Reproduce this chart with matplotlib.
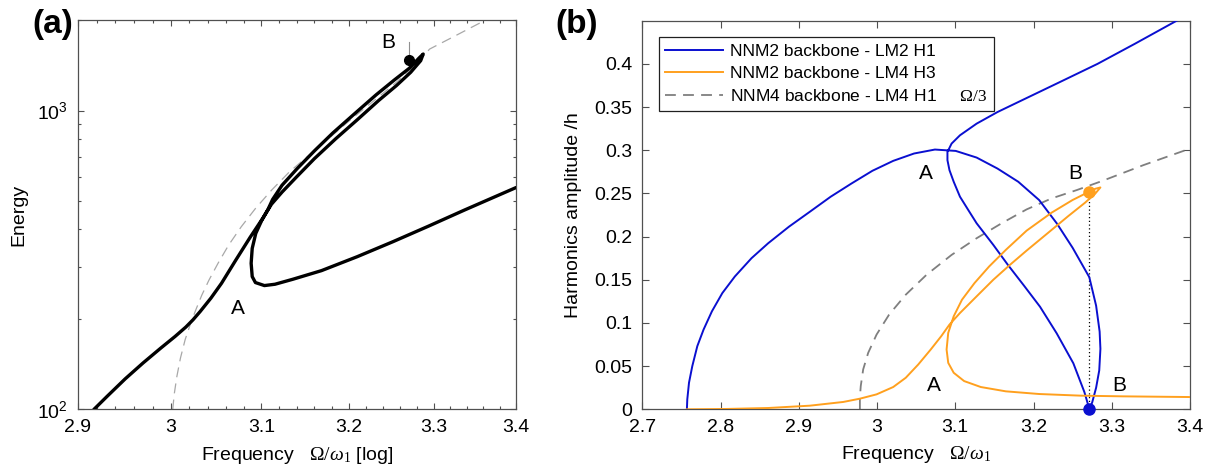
import matplotlib
matplotlib.use('Agg')
import numpy as np
import matplotlib.pyplot as plt
from matplotlib.ticker import FixedLocator, FixedFormatter, NullFormatter, LogLocator, FuncFormatter

plt.rcParams['font.family'] = ['Liberation Sans', 'DejaVu Sans']
plt.rcParams['mathtext.fontset'] = 'custom'
plt.rcParams['mathtext.rm'] = 'Liberation Serif'
plt.rcParams['mathtext.it'] = 'Liberation Serif:italic'
plt.rcParams['mathtext.sf'] = 'Liberation Sans'
plt.rcParams['mathtext.bf'] = 'Liberation Serif:bold'

# ---------------- data : panel (a) ----------------
a_resp_freq = [2.9170, 2.9313, 2.9504, 2.9696, 2.9889, 3.0044, 3.0161, 3.0239, 3.0318, 3.0436,
               3.0554, 3.0713, 3.0872, 3.1013, 3.1113, 3.1234, 3.1397, 3.1601, 3.1847, 3.2096,
               3.2346, 3.2556, 3.2725, 3.2844, 3.2874, 3.2825, 3.2708, 3.2532, 3.2316, 3.2064,
               3.1812, 3.1607, 3.1404, 3.1232, 3.1125, 3.1073, 3.1001, 3.0936, 3.0896, 3.0884,
               3.0896, 3.0932, 3.1033, 3.1153, 3.1356, 3.1683, 3.2096, 3.2514, 3.2938, 3.3367, 3.4000]
a_resp_energy = [100.0, 110.8, 126.6, 143.1, 160.6, 175.6, 188.7, 199.5, 212.7, 235.7,
                 264.4, 316.2, 376.3, 435.4, 486.1, 534.2, 599.5, 690.1, 804.6, 930.8,
                 1079.7, 1211.5, 1342.1, 1467.8, 1544.9, 1498.1, 1384.0, 1265.5, 1127.7, 974.7,
                 840.4, 735.6, 639.2, 562.3, 503.8, 466.6, 427.8, 388.1, 345.9, 308.3,
                 278.3, 265.8, 259.7, 262.4, 272.7, 291.4, 324.4, 364.0, 410.5, 464.2, 552.4]
a_bb_freq = [3.0017, 3.0036, 3.0063, 3.0102, 3.0153, 3.0208, 3.0270, 3.0337, 3.0416, 3.0515,
             3.0633, 3.0773, 3.0932, 3.1113, 3.1315, 3.1560, 3.1806, 3.2054, 3.2304, 3.2556,
             3.2768, 3.2951, 3.3238, 3.3671]
a_bb_energy = [100.0, 113.7, 129.2, 148.7, 171.2, 192.1, 215.4, 241.7, 271.3, 308.3,
               354.8, 408.4, 470.1, 541.2, 623.0, 717.1, 825.4, 950.1, 1085.3, 1243.0,
               1412.5, 1605.3, 1765.3, 2037.0]
a_B_freq, a_B_energy = 3.271, 1475.0
a_B_stem_top = 1700.0
a_xticks = [2.9, 3.0, 3.1, 3.2, 3.3, 3.4]
a_yticks = [100, 1000]
a_yticklabels = [r'$\mathsf{10^{2}}$', r'$\mathsf{10^{3}}$']

# ---------------- data : panel (b) ----------------
b_lm2_freq = [2.7570, 2.7575, 2.7597, 2.7639, 2.7703, 2.7783, 2.7890, 2.8023, 2.8183, 2.8396,
              2.8609, 2.8875, 2.9142, 2.9408, 2.9674, 2.9941, 3.0207, 3.0473, 3.0740, 3.1006,
              3.1273, 3.1539, 3.1805, 3.2072, 3.2300, 3.2500, 3.2713, 3.2800, 3.2845, 3.2855,
              3.2840, 3.2800, 3.2750, 3.2713, 3.2680, 3.2650, 3.2509, 3.2296, 3.2083, 3.1880,
              3.1672, 3.1486, 3.1273, 3.1166, 3.1060, 3.0980, 3.0926, 3.0900, 3.0900, 3.0953,
              3.1060, 3.1273, 3.1539, 3.1805, 3.2338, 3.2818, 3.3300, 3.3900]
b_lm2_amp = [0.0000, 0.0115, 0.0308, 0.0500, 0.0731, 0.0923, 0.1135, 0.1346, 0.1538, 0.1750,
             0.1923, 0.2115, 0.2288, 0.2462, 0.2615, 0.2762, 0.2877, 0.2962, 0.3008, 0.2992,
             0.2915, 0.2788, 0.2635, 0.2423, 0.2150, 0.1870, 0.1530, 0.1200, 0.0900, 0.0700,
             0.0450, 0.0250, 0.0080, 0.0000, 0.0108, 0.0200, 0.0533, 0.0880, 0.1188, 0.1430,
             0.1673, 0.1904, 0.2154, 0.2308, 0.2462, 0.2635, 0.2769, 0.2885, 0.2980, 0.3077,
             0.3173, 0.3308, 0.3442, 0.3558, 0.3790, 0.4000, 0.4235, 0.4535]
b_lm4h3_freq = [2.7570, 2.8076, 2.8609, 2.9142, 2.9568, 2.9781, 2.9994, 3.0207, 3.0367, 3.0527,
                3.0686, 3.0820, 3.0926, 3.1060, 3.1273, 3.1486, 3.1699, 3.1912, 3.2179, 3.2445,
                3.2658, 3.2791, 3.2855, 3.2791, 3.2685, 3.2498, 3.2231, 3.1912, 3.1646, 3.1433,
                3.1246, 3.1086, 3.0980, 3.0910, 3.0889, 3.0910, 3.0980, 3.1113, 3.1326, 3.1646,
                3.2072, 3.2604, 3.3137, 3.4000]
b_lm4h3_amp = [0.0000, 0.0004, 0.0015, 0.0042, 0.0085, 0.0123, 0.0173, 0.0258, 0.0365, 0.0519,
               0.0692, 0.0846, 0.0981, 0.1115, 0.1308, 0.1500, 0.1673, 0.1838, 0.2038, 0.2238,
               0.2392, 0.2500, 0.2569, 0.2554, 0.2508, 0.2423, 0.2277, 0.2069, 0.1846, 0.1654,
               0.1462, 0.1269, 0.1077, 0.0885, 0.0692, 0.0538, 0.0423, 0.0327, 0.0258, 0.0208,
               0.0177, 0.0158, 0.0150, 0.0142]
b_nnm4_freq = [2.9781, 2.9781, 2.9792, 2.9823, 2.9887, 2.9994, 3.0154, 3.0367, 3.0633, 3.0953,
               3.1273, 3.1592, 3.1912, 3.2231, 3.2551, 3.2871, 3.3403, 3.4000]
b_nnm4_amp = [0.0000, 0.0135, 0.0269, 0.0462, 0.0654, 0.0865, 0.1096, 0.1327, 0.1558, 0.1788,
              0.1981, 0.2154, 0.2315, 0.2442, 0.2538, 0.2642, 0.2827, 0.3019]
b_B_freq = 3.2713
b_B_amp_h1 = 0.0
b_B_amp_h3 = 0.252
b_labels = ['NNM2 backbone - LM2 H1', 'NNM2 backbone - LM4 H3',
            'NNM4 backbone - LM4 H1     $\\Omega/3$']
b_xticks = [2.7, 2.8, 2.9, 3.0, 3.1, 3.2, 3.3, 3.4]
b_yticks = [0, 0.05, 0.1, 0.15, 0.2, 0.25, 0.3, 0.35, 0.4]

# ---------------- style ----------------
BLUE = '#0a0fd0'
ORANGE = '#ffa01e'
SPINE = '#505050'
TICKFS = 14
LABFS = 14
LETFS = 15

fig = plt.figure(figsize=(12.13, 4.72), dpi=100)
ax_a = fig.add_axes([0.06406, 0.13242, 0.36134, 0.82415])
ax_b = fig.add_axes([0.52951, 0.13284, 0.45153, 0.82331])

def style_axes(ax):
    for s in ax.spines.values():
        s.set_color(SPINE)
        s.set_linewidth(0.9)
    ax.tick_params(which='both', direction='in', top=True, right=True,
                   color=SPINE, width=0.8, labelcolor='black', labelsize=TICKFS)
    ax.tick_params(which='major', length=4)
    ax.tick_params(which='minor', length=2.2)
    ax.tick_params(axis='x', pad=7)
    ax.tick_params(axis='y', pad=7)

fmt_g = FuncFormatter(lambda v, p: '%g' % v)

# ---------------- panel (a) ----------------
ax_a.plot(a_bb_freq, a_bb_energy, color='#a8a8a8', lw=0.9, dashes=(8, 5), zorder=2)
ax_a.plot(a_resp_freq, a_resp_energy, color='black', lw=2.4, zorder=3,
          solid_joinstyle='round', solid_capstyle='round')
ax_a.plot([a_B_freq, a_B_freq], [a_B_energy, a_B_stem_top], color='#909090', lw=0.8, zorder=2)
ax_a.plot([a_B_freq], [a_B_energy], 'o', color='black', ms=7, zorder=4)
ax_a.set_xscale('log')
ax_a.set_yscale('log')
ax_a.set_xlim(2.9, 3.4)
ax_a.set_ylim(100, 2000)
ax_a.xaxis.set_major_locator(FixedLocator(a_xticks))
ax_a.xaxis.set_major_formatter(fmt_g)
minor_x = [v for v in np.round(np.arange(2.9, 3.4001, 0.02), 2) if round(v * 10) != v * 10]
ax_a.xaxis.set_minor_locator(FixedLocator(minor_x))
ax_a.xaxis.set_minor_formatter(NullFormatter())
ax_a.yaxis.set_major_locator(FixedLocator(a_yticks))
ax_a.yaxis.set_major_formatter(FixedFormatter(a_yticklabels))
ax_a.yaxis.set_minor_locator(LogLocator(base=10, subs=np.arange(2, 10)))
ax_a.yaxis.set_minor_formatter(NullFormatter())
style_axes(ax_a)
ax_a.set_xlabel(r'Frequency   $\Omega/\omega_1$ [log]', fontsize=LABFS)
ax_a.set_ylabel('Energy', fontsize=LABFS)
ax_a.xaxis.set_label_coords(0.5, -0.09)
ax_a.yaxis.set_label_coords(-0.115, 0.5)
ax_a.text(3.0733, 218, 'A', fontsize=LETFS, ha='center', va='center')
ax_a.text(3.2455, 1683, 'B', fontsize=LETFS, ha='center', va='center')

# ---------------- panel (b) ----------------
ax_b.plot(b_lm2_freq, b_lm2_amp, color=BLUE, lw=1.4, label=b_labels[0], zorder=3)
ax_b.plot(b_lm4h3_freq, b_lm4h3_amp, color=ORANGE, lw=1.4, label=b_labels[1], zorder=3)
ax_b.plot(b_nnm4_freq, b_nnm4_amp, color='#7f7f7f', lw=1.3, dashes=(6, 4),
          label=b_labels[2], zorder=2)
ax_b.plot([b_B_freq, b_B_freq], [b_B_amp_h1, b_B_amp_h3], color='black', lw=0.9,
          ls=(0, (1, 2)), zorder=2)
ax_b.plot([b_B_freq], [b_B_amp_h3], 'o', color=ORANGE, ms=8, zorder=5)
ax_b.plot([b_B_freq], [b_B_amp_h1], 'o', color=BLUE, ms=8, zorder=5, clip_on=False)
ax_b.set_xlim(2.7, 3.4)
ax_b.set_ylim(0, 0.45)
ax_b.xaxis.set_major_locator(FixedLocator(b_xticks))
ax_b.xaxis.set_major_formatter(fmt_g)
ax_b.yaxis.set_major_locator(FixedLocator(b_yticks))
ax_b.yaxis.set_major_formatter(fmt_g)
style_axes(ax_b)
ax_b.tick_params(which='major', length=5)
ax_b.set_xlabel(r'Frequency   $\Omega/\omega_1$', fontsize=LABFS)
ax_b.set_ylabel('Harmonics amplitude /h', fontsize=LABFS)
ax_b.xaxis.set_label_coords(0.5, -0.09)
ax_b.yaxis.set_label_coords(-0.11, 0.5)
for (x, y, s) in [(3.0623, 0.273, 'A'), (3.0729, 0.0277, 'A'),
                  (3.2535, 0.273, 'B'), (3.3094, 0.0277, 'B')]:
    ax_b.text(x, y, s, fontsize=LETFS, ha='center', va='center', zorder=6)
leg = ax_b.legend(loc='upper left', bbox_to_anchor=(0.0296, 0.959), borderaxespad=0,
                  fontsize=12.5, handlelength=3.3, handletextpad=0.4, labelspacing=0.42,
                  borderpad=0.4, fancybox=False, framealpha=1, edgecolor='#202020')
leg.get_frame().set_linewidth(0.9)

# panel letters
fig.text(73 / 1213, 1 - 24 / 472, '(a)', fontsize=24, fontweight='bold', ha='right', va='center')
fig.text(598 / 1213, 1 - 25 / 472, '(b)', fontsize=24, fontweight='bold', ha='right', va='center')

fig.savefig('out.png', dpi=100)
